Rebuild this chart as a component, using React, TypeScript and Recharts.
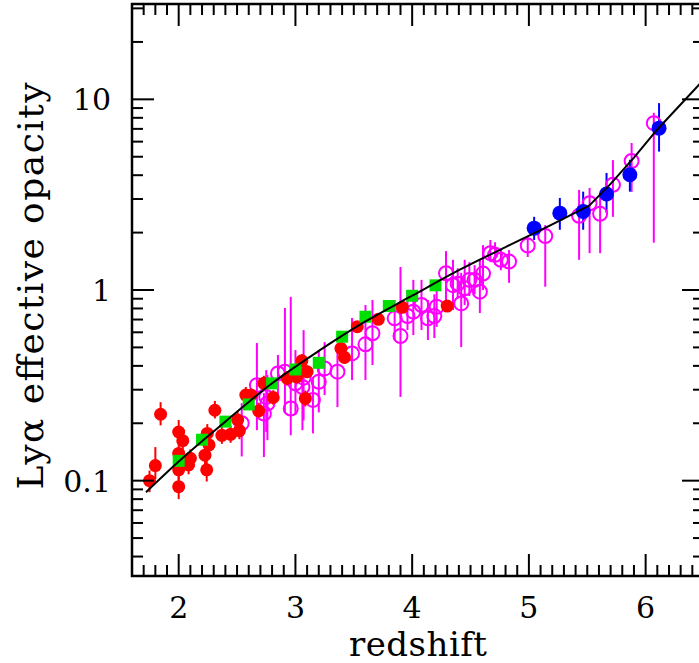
import { ComposedChart, XAxis, YAxis, Scatter, Line, ErrorBar, ReferenceArea } from 'recharts';

const FONT = '"DejaVu Serif", serif';

// [redshift, tau_eff, lower, upper]
const redPoints: [number, number, number, number][] = [
  [1.75, 0.1, 0.087, 0.113],
  [1.8, 0.12, 0.102, 0.15],
  [1.845, 0.223, 0.195, 0.258],
  [2.0, 0.18, 0.158, 0.208],
  [2.035, 0.162, 0.145, 0.182],
  [2.0, 0.139, 0.124, 0.156],
  [2.0, 0.114, 0.1, 0.128],
  [2.0, 0.093, 0.08, 0.107],
  [2.1, 0.131, 0.117, 0.146],
  [2.085, 0.121, 0.108, 0.136],
  [2.24, 0.114, 0.099, 0.13],
  [2.225, 0.136, 0.121, 0.152],
  [2.26, 0.154, 0.137, 0.172],
  [2.245, 0.177, 0.158, 0.198],
  [2.31, 0.234, 0.212, 0.262],
  [2.37, 0.173, 0.156, 0.192],
  [2.445, 0.175, 0.158, 0.194],
  [2.52, 0.183, 0.165, 0.203],
  [2.505, 0.208, 0.188, 0.23],
  [2.575, 0.281, 0.255, 0.31],
  [2.62, 0.281, 0.258, 0.306],
  [2.685, 0.232, 0.21, 0.256],
  [2.73, 0.324, 0.296, 0.355],
  [2.81, 0.273, 0.25, 0.298],
  [2.93, 0.344, 0.315, 0.375],
  [3.01, 0.35, 0.322, 0.38],
  [3.055, 0.425, 0.392, 0.46],
  [3.1, 0.373, 0.345, 0.403],
  [3.085, 0.27, 0.245, 0.297],
  [3.39, 0.494, 0.455, 0.536],
  [3.42, 0.443, 0.41, 0.478],
  [3.53, 0.642, 0.6, 0.687],
  [3.71, 0.702, 0.66, 0.746],
  [3.915, 0.811, 0.765, 0.86],
  [4.3, 0.824, 0.78, 0.87],
];

const greenZ = [2.0, 2.2, 2.4, 2.6, 2.8, 3.0, 3.2, 3.4, 3.6, 3.8, 4.0, 4.2];
const greenTau = [0.127, 0.164, 0.204, 0.251, 0.324, 0.383, 0.415, 0.569, 0.724, 0.824, 0.933, 1.058];

const magentaPoints: [number, number, number, number][] = [
  [2.54, 0.2, 0.134, 0.255],
  [2.73, 0.225, 0.133, 0.288],
  [2.76, 0.254, 0.163, 0.358],
  [2.67, 0.317, 0.184, 0.527],
  [2.75, 0.275, 0.18, 0.38],
  [2.85, 0.365, 0.281, 0.456],
  [2.91, 0.373, 0.226, 0.805],
  [2.96, 0.239, 0.173, 0.92],
  [3.0, 0.324, 0.221, 0.484],
  [3.06, 0.31, 0.184, 0.43],
  [3.07, 0.347, 0.207, 0.616],
  [3.15, 0.265, 0.177, 0.35],
  [3.2, 0.33, 0.228, 0.484],
  [3.25, 0.388, 0.281, 0.533],
  [3.36, 0.373, 0.243, 0.502],
  [3.485, 0.465, 0.337, 0.713],
  [3.6, 0.519, 0.337, 0.834],
  [3.66, 0.593, 0.404, 0.886],
  [3.85, 0.71, 0.547, 0.886],
  [3.9, 0.573, 0.275, 1.32],
  [3.96, 0.73, 0.617, 1.0],
  [4.01, 0.77, 0.58, 1.13],
  [4.08, 0.834, 0.617, 1.13],
  [4.135, 0.71, 0.547, 0.886],
  [4.19, 0.73, 0.56, 0.95],
  [4.21, 0.817, 0.64, 1.05],
  [4.29, 1.224, 0.88, 1.6],
  [4.35, 1.06, 0.785, 1.44],
  [4.39, 1.08, 0.9, 1.3],
  [4.42, 0.85, 0.502, 1.23],
  [4.45, 1.02, 0.834, 1.44],
  [4.49, 1.13, 0.93, 1.4],
  [4.535, 1.13, 0.95, 1.35],
  [4.58, 0.98, 0.757, 1.44],
  [4.607, 1.22, 1.0, 1.72],
  [4.67, 1.56, 1.4, 1.83],
  [4.71, 1.53, 1.36, 1.78],
  [4.76, 1.44, 1.27, 1.66],
  [4.83, 1.41, 1.09, 1.62],
  [4.99, 1.71, 1.49, 1.92],
  [5.14, 1.92, 1.04, 2.19],
  [5.43, 2.45, 1.44, 3.35],
  [5.52, 2.85, 1.56, 3.43],
  [5.61, 2.51, 1.56, 3.23],
  [5.72, 3.56, 2.42, 4.8],
  [5.88, 4.75, 3.27, 5.9],
  [6.07, 7.5, 1.77, 8.5],
];

const bluePoints: [number, number, number, number][] = [
  [5.045, 2.11, 1.83, 2.42],
  [5.265, 2.53, 2.07, 3.04],
  [5.465, 2.58, 2.07, 3.28],
  [5.665, 3.19, 2.54, 4.11],
  [5.865, 4.02, 3.28, 4.82],
  [6.115, 7.06, 5.32, 9.55],
];

// fitted curve: smooth part and steep part past z~5.5
const curveLow: [number, number][] = [
  [1.72, 0.087], [2.0, 0.126], [2.4, 0.204], [2.8, 0.324], [3.2, 0.479], [3.6, 0.684],
  [4.0, 0.933], [4.4, 1.27], [4.8, 1.68], [5.2, 2.21], [5.517, 2.77],
];
const curveHigh: [number, number][] = [
  [5.517, 2.77], [5.7, 3.6], [5.9, 4.95], [6.1, 6.95], [6.472, 12.2],
];

const X_TICKS = Array.from({ length: 50 }, (_, i) => Math.round((1.6 + i * 0.1) * 10) / 10);
const Y_TICKS = [
  0.04, 0.05, 0.06, 0.07, 0.08, 0.09,
  0.1, 0.2, 0.3, 0.4, 0.5, 0.6, 0.7, 0.8, 0.9,
  1, 2, 3, 4, 5, 6, 7, 8, 9,
  10, 20, 30,
];
const Y_LABELS: Record<string, string> = { '0.1': '0.1', '1': '1', '10': '10' };

const withErr = (pts: [number, number, number, number][]) =>
  pts.map(([z, tau, lo, hi]) => ({ z, tau, err: [tau - lo, hi - tau] }));

const redData = withErr(redPoints);
const magentaData = withErr(magentaPoints);
const blueData = withErr(bluePoints);
const greenData = greenZ.map((z, i) => ({ z, tau: greenTau[i] }));
const lowData = curveLow.map(([z, tau]) => ({ z, tau }));
const highData = curveHigh.map(([z, tau]) => ({ z, tau }));

// plot box in pixels
const LEFT = 132;
const RIGHT = 704;
const TOP = 4;
const BOTTOM = 576;

const xMajor = (v: number) => Math.abs(v - Math.round(v)) < 1e-6;
const yMajor = (v: number) => {
  const l = Math.log10(v);
  return Math.abs(l - Math.round(l)) < 1e-6;
};

// draws both the bottom and the top tick for one value
const XTick = ({ payload }: any) => {
  const x = payload.coordinate;
  const major = xMajor(payload.value);
  const len = major ? 22 : 11;
  return (
    <g>
      <line x1={x} y1={BOTTOM} x2={x} y2={BOTTOM - len} stroke="#000" strokeWidth={2} />
      <line x1={x} y1={TOP} x2={x} y2={TOP + len} stroke="#000" strokeWidth={2} />
      {major && (
        <text x={x} y={BOTTOM + 42} textAnchor="middle" fontFamily={FONT} fontSize={30} fill="#000">
          {payload.value}
        </text>
      )}
    </g>
  );
};

// draws both the left and the right tick for one value
const YTick = ({ payload }: any) => {
  const y = payload.coordinate;
  const major = yMajor(payload.value);
  const len = major ? 22 : 11;
  const label = Y_LABELS[String(payload.value)];
  return (
    <g>
      <line x1={LEFT} y1={y} x2={LEFT + len} y2={y} stroke="#000" strokeWidth={2} />
      <line x1={RIGHT} y1={y} x2={RIGHT - len} y2={y} stroke="#000" strokeWidth={2} />
      {label && (
        <text x={LEFT - 21} y={y + 11} textAnchor="end" fontFamily={FONT} fontSize={30} fill="#000">
          {label}
        </text>
      )}
    </g>
  );
};

const dot = (r: number, fill: string) => (p: any) => <circle cx={p.cx} cy={p.cy} r={r} fill={fill} />;
const ring = (p: any) => (
  <circle cx={p.cx} cy={p.cy} r={7} fill="none" stroke="#ff00ff" strokeWidth={2} />
);
const square = (p: any) => <rect x={p.cx - 6} y={p.cy - 6} width={12} height={12} fill="#00e000" />;

const X_DOMAIN: [number, number] = [1.6, 6.5];
const Y_DOMAIN: [number, number] = [Math.pow(10, -1.5), Math.pow(10, 1.5)];

export default function App() {
  return (
    <div
      style={{
        position: 'absolute',
        left: 0,
        top: 0,
        width: 699,
        height: 663,
        overflow: 'hidden',
        background: '#fff',
      }}
    >
      <ComposedChart width={RIGHT} height={663} margin={{ top: TOP, right: 0, bottom: 0, left: 0 }}>
        <XAxis
          xAxisId="b"
          dataKey="z"
          type="number"
          domain={X_DOMAIN}
          allowDataOverflow
          ticks={X_TICKS}
          interval={0}
          height={663 - BOTTOM}
          tickSize={0}
          tickMargin={0}
          tickLine={false}
          axisLine={false}
          tick={(p: any) => <XTick {...p} />}
        />
        <YAxis
          yAxisId="l"
          dataKey="tau"
          type="number"
          scale="log"
          domain={Y_DOMAIN}
          allowDataOverflow
          ticks={Y_TICKS}
          interval={0}
          width={LEFT}
          tickSize={0}
          tickMargin={0}
          tickLine={false}
          axisLine={false}
          tick={(p: any) => <YTick {...p} />}
        />
        <ReferenceArea
          xAxisId="b"
          yAxisId="l"
          x1={X_DOMAIN[0]}
          x2={X_DOMAIN[1]}
          y1={Y_DOMAIN[0]}
          y2={Y_DOMAIN[1]}
          fill="none"
          fillOpacity={0}
          stroke="#000"
          strokeWidth={2.5}
          ifOverflow="visible"
        />
        <Scatter xAxisId="b" yAxisId="l" data={magentaData} shape={ring} isAnimationActive={false}>
          <ErrorBar dataKey="err" direction="y" width={0} stroke="#ff00ff" strokeWidth={2} isAnimationActive={false} />
        </Scatter>
        <Scatter xAxisId="b" yAxisId="l" data={redData} shape={dot(6.5, '#ff0000')} isAnimationActive={false}>
          <ErrorBar dataKey="err" direction="y" width={0} stroke="#ff0000" strokeWidth={2} isAnimationActive={false} />
        </Scatter>
        <Scatter xAxisId="b" yAxisId="l" data={greenData} shape={square} isAnimationActive={false} />
        <Scatter xAxisId="b" yAxisId="l" data={blueData} shape={dot(7.5, '#0000ff')} isAnimationActive={false}>
          <ErrorBar dataKey="err" direction="y" width={0} stroke="#0000ff" strokeWidth={2} isAnimationActive={false} />
        </Scatter>
        <Line
          xAxisId="b"
          yAxisId="l"
          data={lowData}
          dataKey="tau"
          type="monotone"
          stroke="#000"
          strokeWidth={2}
          dot={false}
          activeDot={false}
          isAnimationActive={false}
          zIndex={700}
        />
        <Line
          xAxisId="b"
          yAxisId="l"
          data={highData}
          dataKey="tau"
          type="linear"
          stroke="#000"
          strokeWidth={2}
          dot={false}
          activeDot={false}
          isAnimationActive={false}
          zIndex={700}
        />
      </ComposedChart>
      <svg
        width={699}
        height={663}
        style={{ position: 'absolute', left: 0, top: 0, pointerEvents: 'none' }}
      >
        <text
          x={43}
          y={286}
          transform="rotate(-90 43 286)"
          textAnchor="middle"
          fontFamily={FONT}
          fontSize={36}
          textLength={407}
          lengthAdjust="spacing"
          fill="#000"
        >
          Lyα effective opacity
        </text>
        <text
          x={418}
          y={656}
          textAnchor="middle"
          fontFamily={FONT}
          fontSize={34}
          textLength={138}
          lengthAdjust="spacing"
          fill="#000"
        >
          redshift
        </text>
      </svg>
    </div>
  );
}
